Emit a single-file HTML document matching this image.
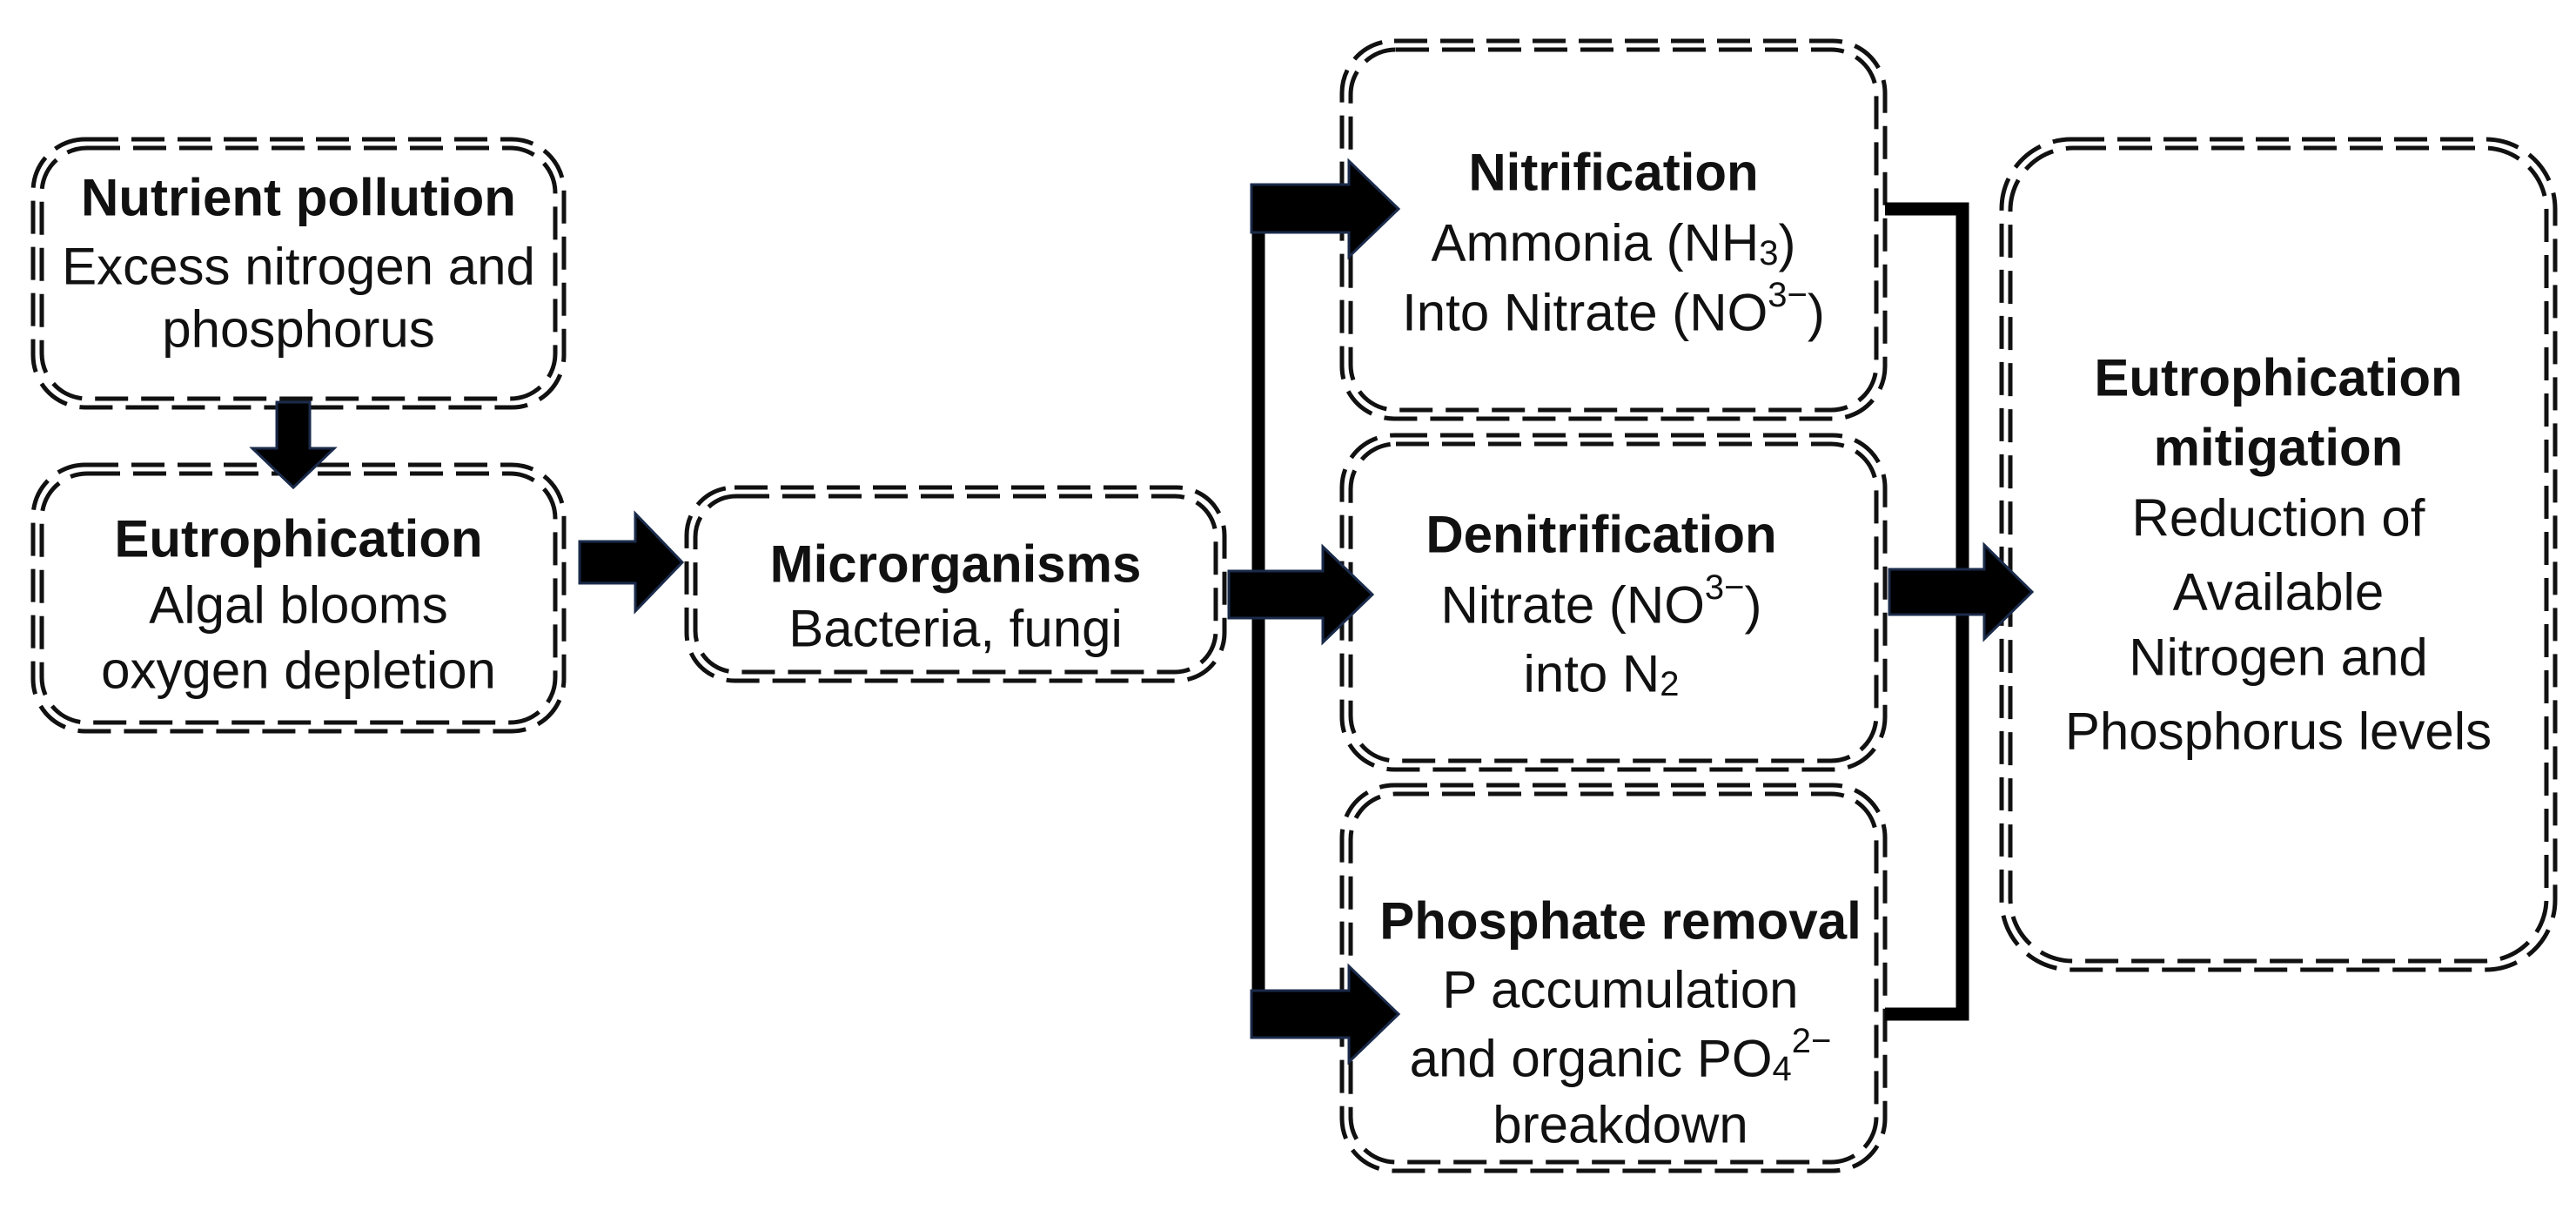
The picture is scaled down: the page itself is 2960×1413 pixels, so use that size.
<!DOCTYPE html>
<html><head><meta charset="utf-8"><style>
html,body{margin:0;padding:0;background:#fff;}
svg{display:block;}
text{font-family:"Liberation Sans",sans-serif;font-size:60px;fill:#111;}
.b{font-weight:bold;}
</style></head><body>
<svg width="2960" height="1413" viewBox="0 0 2960 1413" xmlns="http://www.w3.org/2000/svg">
<g fill="none" stroke="#111" stroke-width="5" stroke-dasharray="38 15">
<rect x="38" y="160" width="610" height="308" rx="60"/><rect x="48" y="170" width="590" height="288" rx="52"/>
<rect x="38" y="534" width="610" height="306" rx="60"/><rect x="48" y="544" width="590" height="286" rx="52"/>
<rect x="789" y="560" width="618" height="222" rx="55"/><rect x="799" y="570" width="598" height="202" rx="47"/>
<rect x="1542" y="47" width="624" height="434" rx="60"/><rect x="1552" y="57" width="604" height="414" rx="52"/>
<rect x="1542" y="500" width="624" height="384" rx="60"/><rect x="1552" y="510" width="604" height="364" rx="52"/>
<rect x="1542" y="902" width="624" height="443" rx="60"/><rect x="1552" y="912" width="604" height="423" rx="52"/>
<rect x="2300" y="160" width="636" height="954" rx="80"/><rect x="2310" y="170" width="616" height="934" rx="72"/>
</g>
<g stroke="#000" stroke-width="15" fill="none">
<polyline points="1446,232 1446,1168"/>
<polyline points="2166,240 2255,240 2255,1165 2166,1165"/>
</g>
<g fill="#000" stroke="#1a2a4a" stroke-width="3">
<polygon points="318,462 356,462 356,515 384,515 337,560 290,515 318,515"/>
<polygon points="666,622 730,622 730,590 784,646 730,702 730,670 666,670"/>
<polygon points="1438,212 1550,212 1550,185 1607,240 1550,295 1550,267 1438,267"/>
<polygon points="1412,656 1520,656 1520,628 1577,683 1520,738 1520,710 1412,710"/>
<polygon points="1438,1138 1550,1138 1550,1110 1607,1165 1550,1220 1550,1192 1438,1192"/>
<polygon points="2171,654 2280,654 2280,626 2335,680 2280,734 2280,706 2171,706"/>
</g>
<g text-anchor="middle" dominant-baseline="central">
<text class="b" x="343" y="227">Nutrient pollution</text>
<text x="343" y="306">Excess nitrogen and</text>
<text x="343" y="378">phosphorus</text>

<text class="b" x="343" y="619">Eutrophication</text>
<text x="343" y="695">Algal blooms</text>
<text x="343" y="770">oxygen depletion</text>

<text class="b" x="1098" y="648">Microrganisms</text>
<text x="1098" y="722">Bacteria, fungi</text>

<text class="b" x="1854" y="198">Nitrification</text>
<text x="1854" y="279">Ammonia (NH<tspan font-size="40" dy="12">3</tspan><tspan dy="-12">)</tspan></text>
<text x="1854" y="359">Into Nitrate (NO<tspan font-size="40" dy="-20">3−</tspan><tspan dy="20">)</tspan></text>

<text class="b" x="1840" y="614">Denitrification</text>
<text x="1840" y="695">Nitrate (NO<tspan font-size="40" dy="-20">3−</tspan><tspan dy="20">)</tspan></text>
<text x="1840" y="774">into N<tspan font-size="40" dy="12">2</tspan></text>

<text class="b" x="1862" y="1058">Phosphate removal</text>
<text x="1862" y="1137">P accumulation</text>
<text x="1862" y="1216">and organic PO<tspan font-size="40" dy="12">4</tspan><tspan font-size="40" dy="-32">2−</tspan></text>
<text x="1862" y="1292">breakdown</text>

<text class="b" x="2618" y="434">Eutrophication</text>
<text class="b" x="2618" y="514">mitigation</text>
<text x="2618" y="595">Reduction of</text>
<text x="2618" y="680">Available</text>
<text x="2618" y="755">Nitrogen and</text>
<text x="2618" y="840">Phosphorus levels</text>
</g>
</svg>
</body></html>
